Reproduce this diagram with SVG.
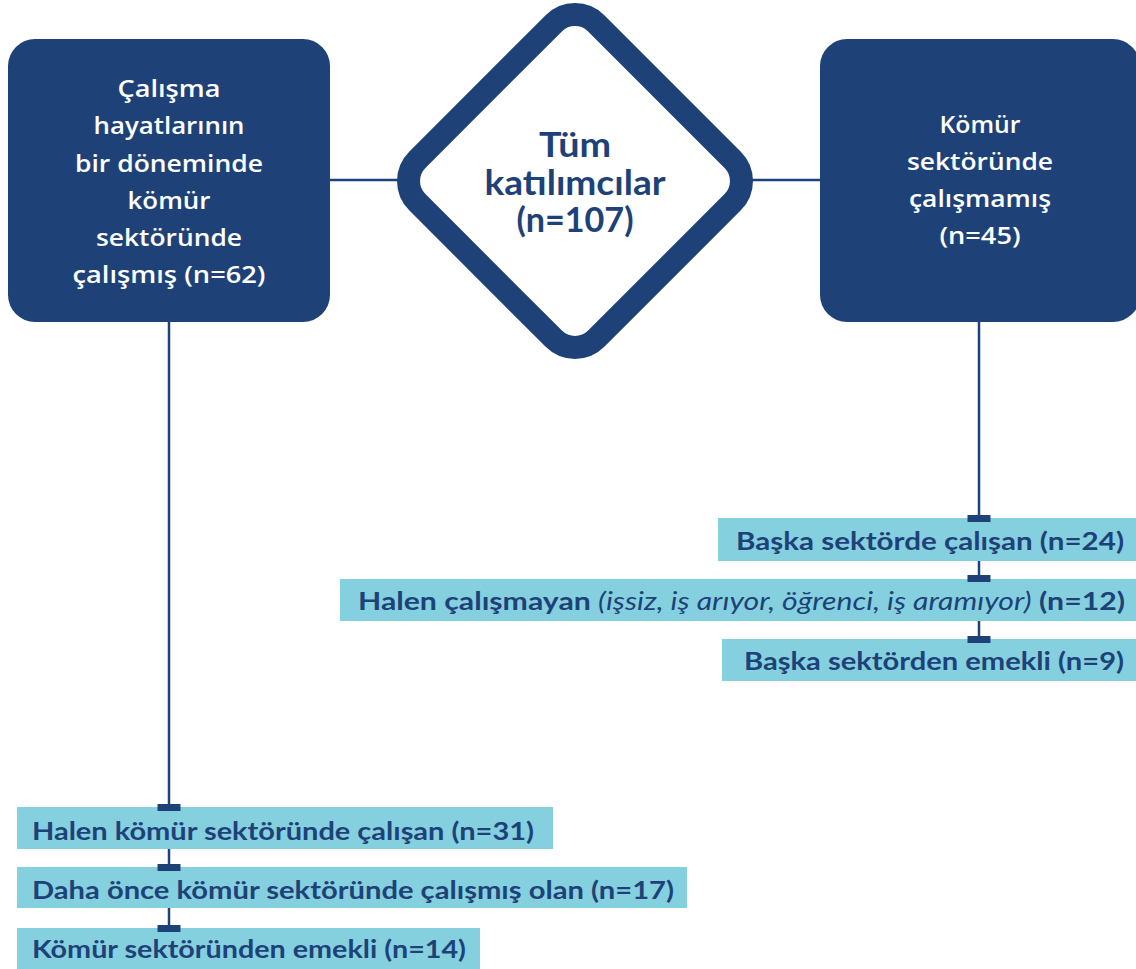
<svg xmlns="http://www.w3.org/2000/svg" width="1136" height="969" viewBox="0 0 1136 969">
<style>
.main{fill:#1e4278}
.sub{fill:#85d0de}
.tick{fill:#1e4278}
.ln{stroke:#1e4278;stroke-width:2.5;fill:none}
.wt{font-family:"Open Sans",Lato,sans-serif;font-weight:600;font-size:24px;fill:#ffffff;text-anchor:middle}
.dt{font-family:Lato,"Open Sans",sans-serif;font-weight:700;font-size:34px;fill:#1e4278;text-anchor:middle}
.st{font-family:Lato,"Open Sans",sans-serif;font-weight:700;font-size:25px;fill:#1e4278}
.it{font-style:italic;font-weight:400}
</style>
<rect width="1136" height="969" fill="#ffffff"/>
<g id="connectors">
<line class="ln" x1="330" y1="180" x2="400" y2="180"/>
<line class="ln" x1="750" y1="180" x2="820" y2="180"/>
<line class="ln" x1="169" y1="320" x2="169" y2="806"/>
<line class="ln" x1="169" y1="849" x2="169" y2="866"/>
<line class="ln" x1="169" y1="908" x2="169" y2="927"/>
<line class="ln" x1="979" y1="320" x2="979" y2="517"/>
<line class="ln" x1="979" y1="561" x2="979" y2="577"/>
<line class="ln" x1="979" y1="621" x2="979" y2="638"/>
</g>
<g id="node-left">
<rect class="main" x="8" y="39" width="322" height="283" rx="27"/>
<text class="wt" x="169" y="97" textLength="103" lengthAdjust="spacingAndGlyphs">Çalışma</text>
<text class="wt" x="169" y="134" textLength="151" lengthAdjust="spacingAndGlyphs">hayatlarının</text>
<text class="wt" x="169" y="172" textLength="188" lengthAdjust="spacingAndGlyphs">bir döneminde</text>
<text class="wt" x="169" y="209" textLength="83" lengthAdjust="spacingAndGlyphs">kömür</text>
<text class="wt" x="169" y="246" textLength="146" lengthAdjust="spacingAndGlyphs">sektöründe</text>
<text class="wt" x="169" y="283" textLength="193" lengthAdjust="spacingAndGlyphs">çalışmış (n=62)</text>
</g>
<g id="node-center">
<rect x="448.5" y="54.5" width="253" height="253" rx="30" fill="#ffffff" stroke="#1e4278" stroke-width="23" transform="rotate(45 575 181)"/>
<text class="dt" x="575" y="157" textLength="72" lengthAdjust="spacingAndGlyphs">Tüm</text>
<text class="dt" x="575" y="195" textLength="181" lengthAdjust="spacingAndGlyphs">katılımcılar</text>
<text class="dt" x="575" y="232" textLength="117" lengthAdjust="spacingAndGlyphs">(n=107)</text>
</g>
<g id="node-right">
<rect class="main" x="820" y="39" width="320" height="283" rx="27"/>
<text class="wt" x="980" y="133" textLength="81" lengthAdjust="spacingAndGlyphs">Kömür</text>
<text class="wt" x="980" y="170" textLength="146" lengthAdjust="spacingAndGlyphs">sektöründe</text>
<text class="wt" x="980" y="207" textLength="142" lengthAdjust="spacingAndGlyphs">çalışmamış</text>
<text class="wt" x="980" y="244" textLength="81" lengthAdjust="spacingAndGlyphs">(n=45)</text>
</g>
<g id="node-r1">
<rect class="sub" x="718" y="518" width="418" height="43"/>
<rect class="tick" x="967.5" y="515" width="23" height="7"/>
<text class="st" x="736" y="550" textLength="388" lengthAdjust="spacingAndGlyphs">Başka sektörde çalışan (n=24)</text>
</g>
<g id="node-r2">
<rect class="sub" x="340" y="579" width="796" height="42"/>
<rect class="tick" x="967.5" y="575" width="23" height="7"/>
<text class="st" x="358" y="610" textLength="767" lengthAdjust="spacingAndGlyphs">Halen çalışmayan <tspan class="it">(işsiz, iş arıyor, öğrenci, iş aramıyor)</tspan> (n=12)</text>
</g>
<g id="node-r3">
<rect class="sub" x="722" y="639" width="414" height="42"/>
<rect class="tick" x="967.5" y="636" width="23" height="7"/>
<text class="st" x="744" y="670" textLength="380" lengthAdjust="spacingAndGlyphs">Başka sektörden emekli (n=9)</text>
</g>
<g id="node-l1">
<rect class="sub" x="17" y="807" width="536" height="42"/>
<rect class="tick" x="157.5" y="804" width="23" height="7"/>
<text class="st" x="32" y="840" textLength="502" lengthAdjust="spacingAndGlyphs">Halen kömür sektöründe çalışan (n=31)</text>
</g>
<g id="node-l2">
<rect class="sub" x="17" y="867" width="670" height="41"/>
<rect class="tick" x="157.5" y="864" width="23" height="7"/>
<text class="st" x="32" y="899" textLength="642" lengthAdjust="spacingAndGlyphs">Daha önce kömür sektöründe çalışmış olan (n=17)</text>
</g>
<g id="node-l3">
<rect class="sub" x="17" y="928" width="463" height="41"/>
<rect class="tick" x="157.5" y="925" width="23" height="7"/>
<text class="st" x="32" y="958" textLength="434" lengthAdjust="spacingAndGlyphs">Kömür sektöründen emekli (n=14)</text>
</g>
</svg>
